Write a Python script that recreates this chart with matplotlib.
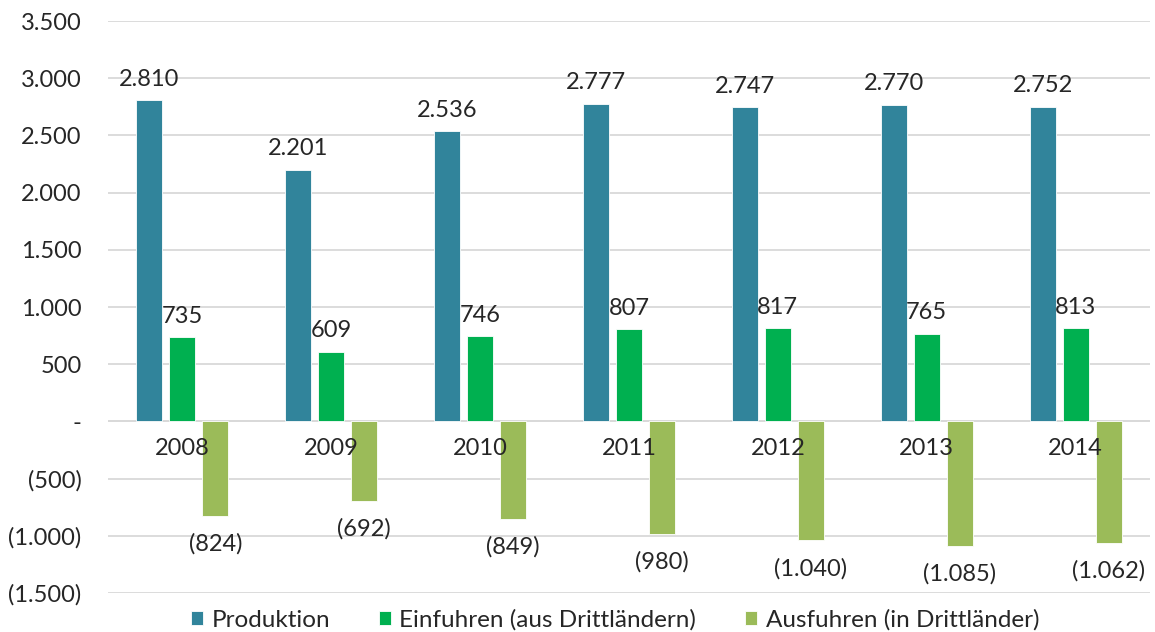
import matplotlib
matplotlib.use("Agg")
import matplotlib.pyplot as plt
import numpy as np
from matplotlib.ticker import FuncFormatter

years = ["2008", "2009", "2010", "2011", "2012", "2013", "2014"]
produktion = [2810, 2201, 2536, 2777, 2747, 2770, 2752]
einfuhren = [735, 609, 746, 807, 817, 765, 813]
ausfuhren = [-824, -692, -849, -980, -1040, -1085, -1062]
series_names = ["Produktion", "Einfuhren (aus Drittländern)", "Ausfuhren (in Drittländer)"]
colors = ["#31849B", "#00B050", "#9BBB59"]

plt.rcParams['font.family'] = ['Lato', 'DejaVu Sans']
text_color = "#262626"
fs = 17


def fmt(v):
    if v == 0:
        return "-"
    s = f"{abs(v):,.0f}".replace(",", ".")
    return f"({s})" if v < 0 else s


fig = plt.figure(figsize=(11.55, 6.32), dpi=100)
ax = fig.add_axes([108 / 1155, 1 - 593 / 632, (1150 - 108) / 1155, (593 - 21) / 632])

x = np.arange(len(years))
w = 0.175
off = 0.222
all_series = [produktion, einfuhren, ausfuhren]
for i, (vals, name, c) in enumerate(zip(all_series, series_names, colors)):
    bars = ax.bar(x + (i - 1) * off, vals, width=w, color=c, label=name, zorder=2,
                  edgecolor="white", linewidth=0.6)
    pad = 7.5 if i < 2 else 12.5
    ax.bar_label(bars, labels=[fmt(v) for v in vals], padding=pad,
                 fontsize=fs, color=text_color, zorder=4)

ax.set_xlim(-0.5, len(years) - 0.5)
ax.set_ylim(-1500, 3500)
ax.set_yticks(np.arange(-1500, 3501, 500))
ax.yaxis.set_major_formatter(FuncFormatter(lambda v, p: fmt(v)))
ax.grid(axis='y', color="#D9D9D9", linewidth=1.3, zorder=0)
ax.set_axisbelow(True)

for s in ["top", "right", "left", "bottom"]:
    ax.spines[s].set_visible(False)
ax.axhline(0, color="#D9D9D9", linewidth=1.3, zorder=1)

ax.set_xticks([])
for xi, yr in zip(x, years):
    ax.annotate(yr, xy=(xi, 0), xytext=(0, -27), textcoords='offset pixels',
                ha='center', va='center', fontsize=fs, color=text_color, zorder=5)
ax.tick_params(axis='y', length=0, pad=19, labelsize=fs, labelcolor=text_color)

fig.legend(loc='center', bbox_to_anchor=(615 / 1155, 1 - 620 / 632), ncol=3,
           frameon=False, fontsize=17.5, handlelength=0.5, handleheight=0.5,
           handletextpad=0.35, columnspacing=2.0, labelcolor=text_color)

fig.savefig("out.png", dpi=100)
